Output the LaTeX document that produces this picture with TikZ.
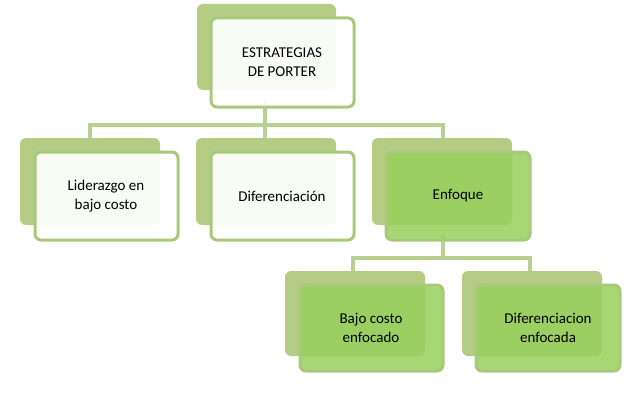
\documentclass[tikz,border=0pt]{standalone}
\usepackage{fontspec}
\setmainfont{Carlito}
\definecolor{backg}{HTML}{B5CC85}
\definecolor{edge}{HTML}{A9C97A}
\definecolor{fillg}{HTML}{97D05C}
\definecolor{conn}{HTML}{B9D190}
\tikzset{
 back/.style={fill=backg,rounded corners=6pt},
 front/.style={draw=edge,line width=3pt,rounded corners=6pt,fill=white,fill opacity=0.92},
 frontg/.style={draw=edge,line width=3pt,rounded corners=6pt,fill=fillg,fill opacity=0.85},
 lbl/.style={font=\fontsize{15}{19}\selectfont,align=center,text opacity=1},
 cn/.style={conn,line width=4pt}
}
\begin{document}
\begin{tikzpicture}[x=1pt,y=-1pt]
\useasboundingbox (0,0) rectangle (640,412);
% connectors
\coordinate (t0) at (265,100);
\coordinate (tm) at (265,125);
\coordinate (tl) at (90,125);
\coordinate (tr) at (443,125);
\draw[cn] (t0)--(tm);
\draw[cn] (90,140)|-(tl)--(tr)--(443,140);
\draw[cn] (tm)--(265,140);
\coordinate (e0) at (443,235);
\coordinate (em) at (443,258);
\draw[cn] (e0)--(em);
\draw[cn] (353,275)|-(em)-|(530,275);
% top
\fill[back] (197,4) rectangle (336,90);
\draw[front] (211,18) rectangle (354,107);
\node[lbl] (top) at (282,62) {ESTRATEGIAS\\DE PORTER};
% row 2
\fill[back] (20,138) rectangle (160,225);
\draw[front] (35,152) rectangle (178,240);
\node[lbl] (lid) at (106,196) {Liderazgo en\\bajo costo};
\fill[back] (196,138) rectangle (336,225);
\draw[front] (211,152) rectangle (354,240);
\node[lbl] (dif) at (282,196) {Diferenciación};
\fill[back] (372,138) rectangle (512,225);
\draw[frontg] (386,152) rectangle (530,240);
\node[lbl] (enf) at (458,196) {Enfoque};
% row 3
\fill[back] (285,271) rectangle (425,356);
\draw[frontg] (300,285) rectangle (443,371);
\node[lbl] (bce) at (371,328) {Bajo costo\\enfocado};
\fill[back] (462,271) rectangle (602,356);
\draw[frontg] (476,285) rectangle (620,371);
\node[lbl] (dfe) at (548,328) {Diferenciacion\\enfocada};
\end{tikzpicture}
\end{document}
